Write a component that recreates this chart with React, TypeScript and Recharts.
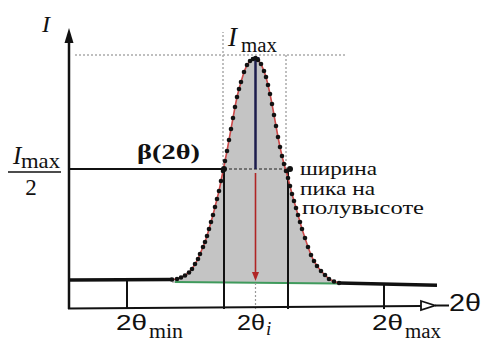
import React from 'react';
import { ComposedChart, Area, Line, XAxis, YAxis, ReferenceLine, ReferenceDot } from 'recharts';

// Peak profile (2θ in arbitrary units, intensity in arbitrary units)
const peakTwoTheta = [103, 108, 112, 116, 120, 123, 126, 129, 131, 134, 136, 138, 140, 142, 144, 146, 148, 150, 152, 154, 156, 158, 160, 162, 164, 166, 168, 170, 172, 175, 178, 181, 184, 186.5, 189, 192, 195, 197, 199, 201, 203, 205, 207, 209, 211, 213, 215, 217, 219, 221, 223, 225, 227, 229, 231, 233, 236, 239, 242, 245, 248, 252, 256, 260, 265, 270];
const peakIntensity = [29.5, 30, 31.5, 33.5, 36.5, 40, 45, 50, 55, 62, 67, 73, 80, 87, 94, 102, 110, 118, 128, 138, 148, 158, 169, 180, 191, 202, 212, 220, 227, 237, 244, 248, 250, 251, 249, 245, 238, 232, 224, 215, 205, 194, 183, 172, 162, 153, 145, 138, 131, 123, 115, 108, 101, 94, 87, 80, 71, 62, 54, 48, 43, 38, 34, 30, 27.5, 26];

// Background (flat) parts of the measured profile
const baselineLeftX = [0, 103];
const baselineLeftI = [29, 29.5];
const baselineRightX = [270, 368];
const baselineRightI = [26, 23.7];
// Green background line under the peak
const greenX = [106, 268];
const greenI = [27, 25.5];

// Characteristic values
const peakPos = 186.5;      // 2θi
const iMax = 251;           // Imax
const halfMax = 140;        // Imax/2
const halfLeft = 155;       // left half-width point
const halfRight = 219;      // right half-width point
const twoThetaMin = 58;
const twoThetaMax = 315;
const backgroundLevel = 26;
const xDomain = [0, 371];
const yDomain = [0, 279];

const data = peakTwoTheta.map((x, i) => ({ x, y: peakIntensity[i] }));

const seg = (xs: number[], ys: number[]) => [{ x: xs[0], y: ys[0] }, { x: xs[1], y: ys[1] }];

const upArrow = (p: any) => (
  <path d={`M${p.cx},${p.cy - 2} L${p.cx - 4.5},${p.cy + 13} L${p.cx + 4.5},${p.cy + 13} Z`} fill="#111" />
);
const rightArrow = (p: any) => (
  <g>
    <path d={`M${p.cx - 6},${p.cy - 4.5} L${p.cx + 8},${p.cy} L${p.cx - 6},${p.cy + 4.5} Z`} fill="#fff" stroke="#111" strokeWidth={1.8} />
    <line x1={p.cx + 8} y1={p.cy} x2={p.cx + 22} y2={p.cy} stroke="#111" strokeWidth={2} />
  </g>
);
const downArrow = (p: any) => (
  <path d={`M${p.cx},${p.cy} L${p.cx - 3.5},${p.cy - 9} L${p.cx + 3.5},${p.cy - 9} Z`} fill="#b02525" />
);
const smallDot = (p: any) => <circle cx={p.cx} cy={p.cy} r={3} fill="#111" />;

const SERIF = 'Liberation Serif';
const SANS = 'Liberation Sans';

export default function App() {
  return (
    <div style={{ position: 'absolute', left: 0, top: 0, width: 484, height: 344, background: '#fff' }}>
      <ComposedChart width={484} height={344} data={data} margin={{ top: 30, right: 44, bottom: 35, left: 69 }}>
        <XAxis type="number" dataKey="x" domain={xDomain} allowDataOverflow hide />
        <YAxis type="number" domain={yDomain} allowDataOverflow hide />
        <Area dataKey="y" baseValue={backgroundLevel} fill="#c4c4c4" fillOpacity={1} stroke="none" isAnimationActive={false} />
        <ReferenceLine segment={seg(greenX, greenI)} stroke="#3f9a5c" strokeWidth={2} ifOverflow="visible" />
        <ReferenceLine segment={[{ x: 6, y: iMax + 3 }, { x: 276, y: iMax + 3 }]} stroke="#aaa" strokeWidth={1.5} strokeDasharray="2 2" ifOverflow="visible" />
        <ReferenceLine segment={[{ x: halfLeft - 1, y: halfMax }, { x: halfLeft - 1, y: 277 }]} stroke="#aaa" strokeWidth={1.5} strokeDasharray="2 2" ifOverflow="visible" />
        <ReferenceLine segment={[{ x: halfRight - 2, y: halfMax }, { x: halfRight - 2, y: iMax + 3 }]} stroke="#aaa" strokeWidth={1.5} strokeDasharray="2 2" ifOverflow="visible" />
        <ReferenceLine segment={[{ x: halfLeft, y: 0 }, { x: halfLeft, y: halfMax }]} stroke="#111" strokeWidth={2} ifOverflow="visible" />
        <ReferenceLine segment={[{ x: halfRight, y: 0 }, { x: halfRight, y: halfMax }]} stroke="#111" strokeWidth={2} ifOverflow="visible" />
        <ReferenceLine segment={[{ x: 0, y: halfMax }, { x: halfLeft, y: halfMax }]} stroke="#111" strokeWidth={2} ifOverflow="visible" />
        <ReferenceLine segment={[{ x: halfLeft, y: halfMax }, { x: halfRight + 2, y: halfMax }]} stroke="#555" strokeWidth={1.5} strokeDasharray="3 2" ifOverflow="visible" />
        <ReferenceLine segment={[{ x: peakPos, y: halfMax }, { x: peakPos, y: iMax }]} stroke="#1c1c4c" strokeWidth={2.5} ifOverflow="visible" />
        <ReferenceLine segment={[{ x: peakPos - 4, y: iMax }, { x: peakPos + 4, y: iMax }]} stroke="#1c1c4c" strokeWidth={2} ifOverflow="visible" />
        <ReferenceLine segment={[{ x: peakPos, y: halfMax - 4 }, { x: peakPos, y: backgroundLevel + 8 }]} stroke="#b02525" strokeWidth={1.6} ifOverflow="visible" />
        <ReferenceDot x={peakPos} y={backgroundLevel + 2} shape={downArrow} ifOverflow="visible" />
        <ReferenceLine segment={[{ x: peakPos, y: 0 }, { x: peakPos, y: backgroundLevel }]} stroke="#999" strokeWidth={1.2} strokeDasharray="2 2" ifOverflow="visible" />
        <ReferenceLine segment={[{ x: twoThetaMin, y: 0 }, { x: twoThetaMin, y: 29 }]} stroke="#111" strokeWidth={2} ifOverflow="visible" />
        <ReferenceLine segment={[{ x: twoThetaMax, y: 0 }, { x: twoThetaMax, y: 24 }]} stroke="#111" strokeWidth={2} ifOverflow="visible" />
        <ReferenceLine segment={seg(baselineLeftX, baselineLeftI)} stroke="#111" strokeWidth={3.5} ifOverflow="visible" />
        <ReferenceLine segment={seg(baselineRightX, baselineRightI)} stroke="#111" strokeWidth={3.5} ifOverflow="visible" />
        <ReferenceLine segment={[{ x: 0, y: 0 }, { x: 0, y: 272 }]} stroke="#111" strokeWidth={2.5} ifOverflow="visible" />
        <ReferenceDot x={0} y={279} shape={upArrow} ifOverflow="visible" />
        <ReferenceLine segment={[{ x: -1, y: 0.5 }, { x: 352, y: 3 }]} stroke="#111" strokeWidth={2} ifOverflow="visible" />
        <ReferenceDot x={358} y={3.5} shape={rightArrow} ifOverflow="visible" />
        <ReferenceDot x={halfLeft} y={halfMax} shape={smallDot} ifOverflow="visible" />
        <ReferenceDot x={halfRight + 2} y={halfMax} shape={smallDot} ifOverflow="visible" />
        <Line dataKey="y" stroke="#cc4a4a" strokeWidth={1.6} dot={false} isAnimationActive={false} />
        <Line dataKey="y" stroke="none" dot={{ r: 2.3, fill: '#111', stroke: 'none' }} isAnimationActive={false} />
      </ComposedChart>
      <svg width={484} height={344} style={{ position: 'absolute', left: 0, top: 0, pointerEvents: 'none' }} fill="#111">
        <text x={42} y={32} fontFamily={SERIF} fontStyle="italic" fontSize={24}>I</text>
        <text x={228} y={46} fontFamily={SERIF} fontStyle="italic" fontSize={27}>I</text>
        <text x={241} y={52} fontFamily={SERIF} fontSize={20} textLength={36} lengthAdjust="spacingAndGlyphs">max</text>
        <text x={13} y={164} fontFamily={SERIF} fontStyle="italic" fontSize={25}>I</text>
        <text x={21} y={168} fontFamily={SERIF} fontSize={21} textLength={39} lengthAdjust="spacingAndGlyphs">max</text>
        <line x1={8} y1={172} x2={61} y2={172} stroke="#111" strokeWidth={1.5} />
        <text x={31} y={195} textAnchor="middle" fontFamily={SERIF} fontSize={23}>2</text>
        <text x={137} y={159} fontFamily={SERIF} fontWeight="bold" fontSize={20} textLength={63} lengthAdjust="spacingAndGlyphs">β(2θ)</text>
        <text x={300} y={175} fontFamily={SERIF} fontSize={19} textLength={77} lengthAdjust="spacingAndGlyphs">ширина</text>
        <text x={300} y={195} fontFamily={SERIF} fontSize={19} textLength={75} lengthAdjust="spacingAndGlyphs">пика на</text>
        <text x={302} y={214} fontFamily={SERIF} fontSize={19} textLength={122} lengthAdjust="spacingAndGlyphs">полувысоте</text>
        <text x={116} y={330} fontFamily={SANS} fontSize={22} textLength={31} lengthAdjust="spacingAndGlyphs">2θ</text>
        <text x={149} y={338} fontFamily={SERIF} fontSize={20} textLength={34} lengthAdjust="spacingAndGlyphs">min</text>
        <text x={237} y={330} fontFamily={SANS} fontSize={22} textLength={28} lengthAdjust="spacingAndGlyphs">2θ</text>
        <text x={266} y={335} fontFamily={SERIF} fontStyle="italic" fontSize={19}>i</text>
        <text x={372} y={330} fontFamily={SANS} fontSize={22} textLength={31} lengthAdjust="spacingAndGlyphs">2θ</text>
        <text x={405} y={338} fontFamily={SERIF} fontSize={20} textLength={36} lengthAdjust="spacingAndGlyphs">max</text>
        <text x={449} y={311} fontFamily={SANS} fontSize={23} textLength={32} lengthAdjust="spacingAndGlyphs">2θ</text>
      </svg>
    </div>
  );
}
